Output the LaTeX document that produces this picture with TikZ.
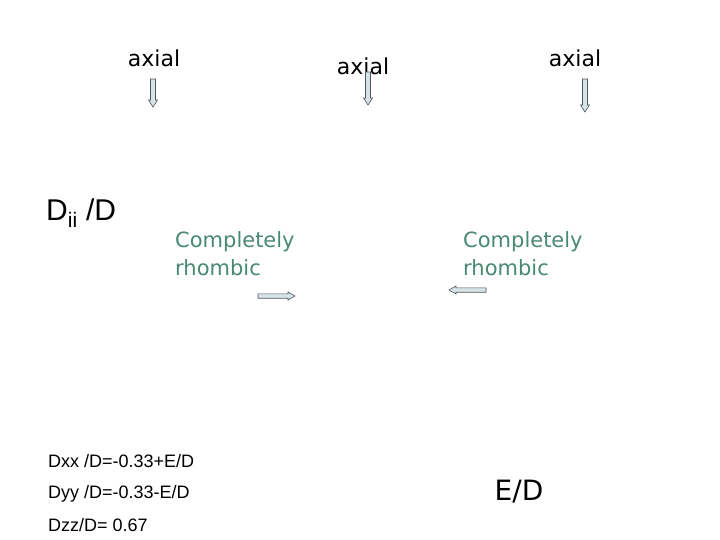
\documentclass[tikz,border=0pt]{standalone}
\usepackage{fontspec}
\setmainfont{Liberation Sans}
\newfontfamily\comicish{DejaVu Sans}
\definecolor{rhgreen}{RGB}{72,138,112}
\definecolor{arrfill}{RGB}{214,228,232}
\definecolor{arredge}{RGB}{80,85,90}
\tikzset{
  axlabel/.style={font=\comicish\fontsize{22}{24}\selectfont, inner sep=0pt},
  rhlabel/.style={font=\comicish\fontsize{21}{28}\selectfont, text=rhgreen, align=left, anchor=north west, inner sep=0pt},
  eqlabel/.style={font=\fontsize{18}{20}\selectfont, anchor=west, inner sep=0pt},
  blockarrow/.style={draw=arredge, fill=arrfill, line width=0.6pt},
  pics/downarrow/.style={code={
    \path[blockarrow] (-2.5,0) -- (2.5,0) -- (2.5,#1-7) -- (4.5,#1-7) -- (0,#1) -- (-4.5,#1-7) -- (-2.5,#1-7) -- cycle;
  }},
  pics/rightarrow/.style={code={
    \path[blockarrow] (0,-2.2) -- (0,2.2) -- (#1-7,2.2) -- (#1-7,4) -- (#1,0) -- (#1-7,-4) -- (#1-7,-2.2) -- cycle;
  }},
}
\begin{document}
\begin{tikzpicture}[x=1pt,y=-1pt]
\useasboundingbox[fill=white] (0,0) rectangle (720,540);
% axial labels
\node[axlabel] (ax1) at (154,58) {axial};
\node[axlabel] (ax2) at (363,66) {axial};
\node[axlabel] (ax3) at (575,58) {axial};
% down arrows
\pic at (153,79) {downarrow=28};
\pic at (368,72) {downarrow=33};
\pic at (585,79) {downarrow=33};
% D_ii / D
\node[font=\fontsize{30}{32}\selectfont, inner sep=0pt, anchor=west] (dii) at (46,213) {D\textsubscript{ii} /D};
% completely rhombic
\node[rhlabel] (rh1) at (175,231) {Completely\\rhombic};
\node[rhlabel] (rh2) at (463,231) {Completely\\rhombic};
% horizontal arrows
\pic at (258,296) {rightarrow=37};
\pic[xscale=-1] at (486,290) {rightarrow=37};
% equations
\node[eqlabel] (dxx) at (48,461) {Dxx /D=-0.33+E/D};
\node[eqlabel] (dyy) at (48,494) {Dyy /D=-0.33-E/D};
\node[eqlabel] (dzz) at (48,525) {Dzz/D= 0.67};
% E/D
\node[font=\comicish\fontsize{28}{30}\selectfont, inner sep=0pt] (ed) at (519,492) {E/D};
\end{tikzpicture}
\end{document}
